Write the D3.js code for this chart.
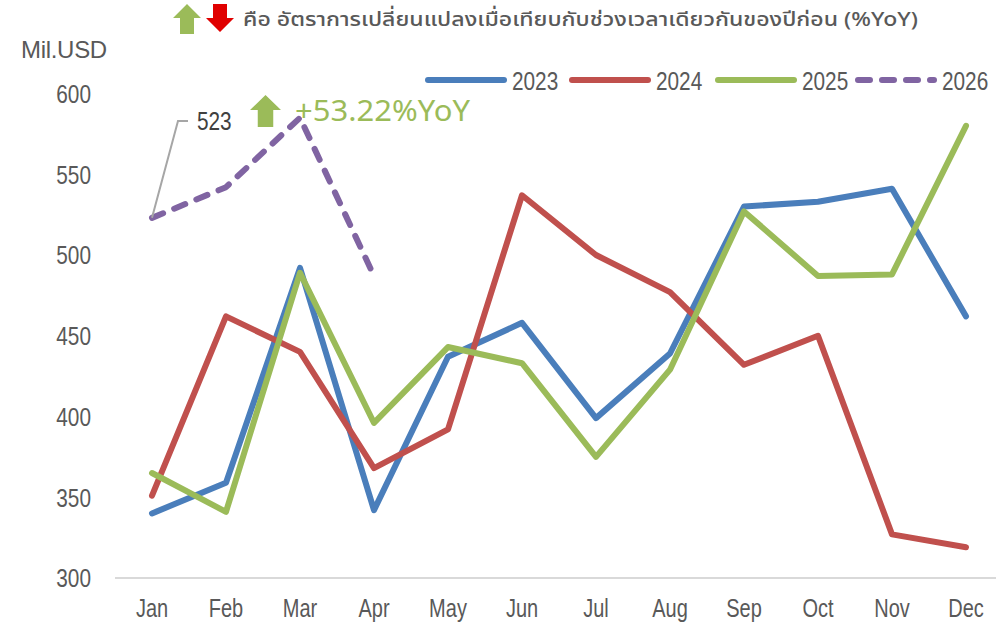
<!DOCTYPE html>
<html>
<head>
<meta charset="utf-8">
<script src="https://cdn.jsdelivr.net/npm/d3@7"></script>
<style>
  body { margin: 0; background: #fff; }
  svg text { font-family: "Liberation Sans Narrow", "Liberation Sans", Arial, sans-serif; fill: #595959; }
</style>
</head>
<body>
<div id="chart"></div>
<script>
"use strict";

var WIDTH = 996;
var HEIGHT = 625;
var NARROW = 0.8; // horizontal squeeze, stands in for Arial Narrow

var months = ["Jan","Feb","Mar","Apr","May","Jun","Jul","Aug","Sep","Oct","Nov","Dec"];
var yTicks = [300, 350, 400, 450, 500, 550, 600];

var years = ["2023", "2024", "2025", "2026"];
var values2023 = [340, 359, 492, 342, 437, 458, 399, 439, 530, 533, 541, 462];
var values2024 = [351, 462, 440, 368, 392, 537, 500, 477, 432, 450, 327, 319];
var values2025 = [365, 341, 489, 396, 443, 433, 375, 429, 527, 487, 488, 580];
var values2026 = [523, 542, 585, 487];

var colors = {
    "2023": "#4a7ebb",
    "2024": "#c0504d",
    "2025": "#9bbb59",
    "2026": "#8064a2"
};

var series = [
    { year: "2023", values: values2023 },
    { year: "2024", values: values2024 },
    { year: "2025", values: values2025 },
    { year: "2026", values: values2026, dashed: true }
];

var svg = d3.select("#chart").append("svg")
    .attr("width", WIDTH)
    .attr("height", HEIGHT);

// Scales
var scaleX = d3.scaleBand().domain(months).range([115, 1003]);
var scaleY = d3.scaleLinear().domain([300, 600]).range([578, 93.5]);

function cx(m) {
    return scaleX(m) + scaleX.bandwidth() / 2;
}

function narrow(x, y) {
    return "translate(" + x + "," + y + ") scale(" + NARROW + ",1)";
}

// Baseline
svg.append("line")
    .attr("x1", 115).attr("x2", WIDTH)
    .attr("y1", scaleY(300)).attr("y2", scaleY(300))
    .style("stroke", "#d9d9d9")
    .style("stroke-width", 2);

// Y labels
svg.selectAll("text.ytick").data(yTicks).enter().append("text")
    .attr("class", "ytick")
    .attr("transform", function (d) { return narrow(91, scaleY(d)); })
    .attr("dy", "0.36em")
    .attr("text-anchor", "end")
    .style("font-size", "26px")
    .text(function (d) { return d; });

// X labels
svg.selectAll("text.xtick").data(months).enter().append("text")
    .attr("class", "xtick")
    .attr("transform", function (d) { return narrow(cx(d), 617); })
    .attr("text-anchor", "middle")
    .style("font-size", "25px")
    .text(function (d) { return d; });

svg.append("text")
    .attr("x", 21)
    .attr("y", 58)
    .style("font-family", "'Liberation Sans', Arial, sans-serif")
    .style("font-size", "24px")
    .style("letter-spacing", "-0.3px")
    .text("Mil.USD");

// Lines
var line = d3.line()
    .x(function (d, i) { return cx(months[i]); })
    .y(function (d) { return scaleY(d); });

svg.selectAll("path.series").data(series).enter().append("path")
    .attr("class", "series")
    .attr("d", function (d) { return line(d.values); })
    .style("fill", "none")
    .style("stroke", function (d) { return colors[d.year]; })
    .style("stroke-width", 6)
    .style("stroke-linejoin", "round")
    .style("stroke-linecap", "round")
    .style("stroke-dasharray", function (d) { return d.dashed ? "12,12" : null; });

// Legend
var legendX = [428, 572, 718, 858];
years.forEach(function (year, i) {
    var x = legendX[i];
    svg.append("line")
        .attr("x1", x).attr("x2", x + 76)
        .attr("y1", 80).attr("y2", 80)
        .style("stroke", colors[year])
        .style("stroke-width", 6)
        .style("stroke-linecap", "round")
        .style("stroke-dasharray", year == "2026" ? "12,12" : null);
    svg.append("text")
        .attr("transform", narrow(x + 84, 90))
        .style("font-size", "26px")
        .text(year);
});

// Block arrows
function upArrow(x, y, w, h, color) {
    var head = h * 0.47;
    var shaft = w * 0.5;
    var p = "M" + x + "," + (y + head) +
        "L" + (x + w / 2) + "," + y +
        "L" + (x + w) + "," + (y + head) +
        "L" + (x + w / 2 + shaft / 2) + "," + (y + head) +
        "L" + (x + w / 2 + shaft / 2) + "," + (y + h) +
        "L" + (x + w / 2 - shaft / 2) + "," + (y + h) +
        "L" + (x + w / 2 - shaft / 2) + "," + (y + head) + "Z";
    svg.append("path").attr("d", p).style("fill", color);
}

function downArrow(x, y, w, h, color) {
    var head = h * 0.5;
    var shaft = w * 0.5;
    var p = "M" + (x + w / 2 - shaft / 2) + "," + y +
        "L" + (x + w / 2 + shaft / 2) + "," + y +
        "L" + (x + w / 2 + shaft / 2) + "," + (y + h - head) +
        "L" + (x + w) + "," + (y + h - head) +
        "L" + (x + w / 2) + "," + (y + h) +
        "L" + x + "," + (y + h - head) +
        "L" + (x + w / 2 - shaft / 2) + "," + (y + h - head) + "Z";
    svg.append("path").attr("d", p).style("fill", color);
}

// Title
upArrow(173, 4, 28, 30, "#9bbb59");
downArrow(206, 4, 28, 28, "#e00000");
svg.append("text")
    .attr("x", 243)
    .attr("y", 26)
    .attr("textLength", 675)
    .attr("lengthAdjust", "spacingAndGlyphs")
    .style("font-family", "'Noto Sans Thai', 'Noto Sans', sans-serif")
    .style("font-size", "20px")
    .style("font-weight", "500")
    .text("คือ อัตราการเปลี่ยนแปลงเมื่อเทียบกับช่วงเวลาเดียวกันของปีก่อน (%YoY)");

// Callout for Jan 2026
var janX = cx("Jan");
var janY = scaleY(values2026[0]);
svg.append("path")
    .attr("d", "M" + janX + "," + janY + "L178,121L188,121")
    .style("fill", "none")
    .style("stroke", "#a6a6a6")
    .style("stroke-width", 2);
svg.append("text")
    .attr("transform", narrow(197, 130))
    .style("font-size", "26px")
    .style("fill", "#404040")
    .text(values2026[0]);

// YoY note for Mar 2026
upArrow(250, 95, 31, 32, "#9bbb59");
svg.append("text")
    .attr("x", 295)
    .attr("y", 121)
    .attr("textLength", 175)
    .attr("lengthAdjust", "spacingAndGlyphs")
    .style("font-family", "'Noto Sans', sans-serif")
    .style("font-size", "29px")
    .style("fill", "#9bbb59")
    .text("+53.22%YoY");
</script>
</body>
</html>
